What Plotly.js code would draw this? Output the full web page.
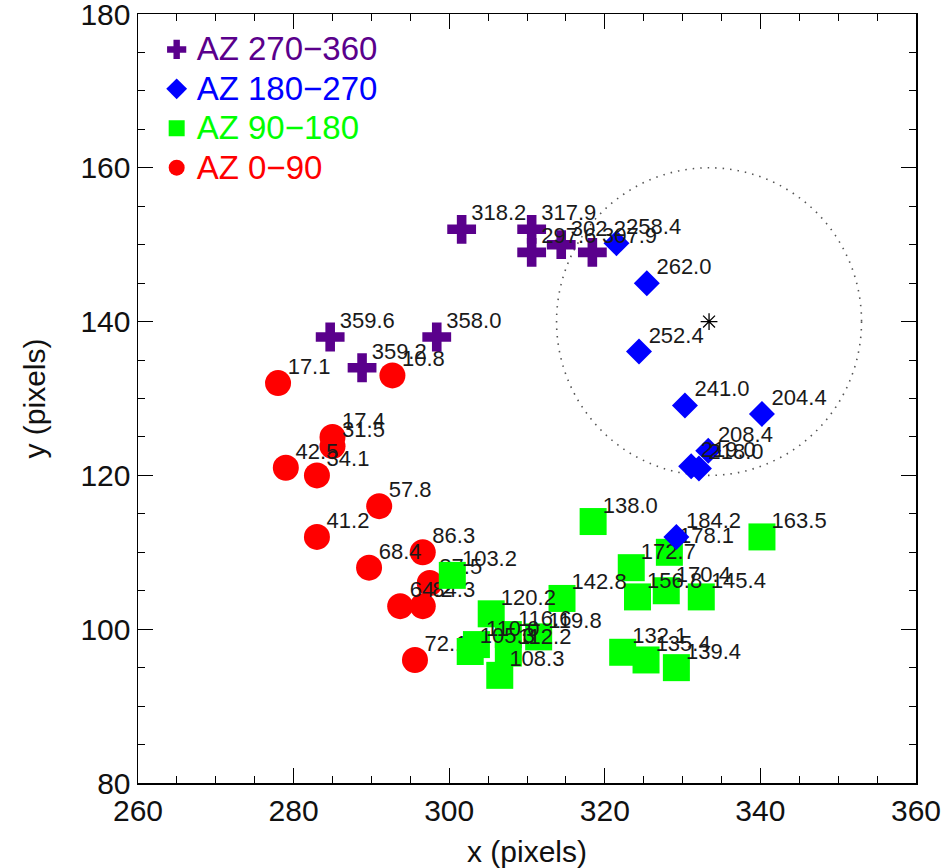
<!DOCTYPE html>
<html>
<head>
<meta charset="utf-8">
<script src="https://cdn.plot.ly/plotly-3.0.1.min.js"></script>
<style>html,body{margin:0;padding:0;background:#fff;}#chart{width:947px;height:868px;}</style>
</head>
<body>
<div id="chart"></div>
<script>
// AZ 0-90 (red circles)
const az0X = [278, 292.7, 285, 285, 279, 283, 291, 283, 289.7, 296.6, 297.5, 293.7, 296.6, 295.6];
const az0Y = [132, 133, 125, 123.8, 121, 120, 116, 112, 108, 110, 106, 103, 103, 96];
const az0Lab = ["17.1","10.8","17.4","31.5","42.5","34.1","57.8","41.2","68.4","86.3","87.5","64.2","84.3","72.1"];

// AZ 90-180 (green squares)
const az90X = [318.5, 340.2, 328.3, 323.4, 324.2, 327.9, 332.4, 314.5, 322.3, 325.3, 329.2, 300.4, 305.4, 302.7, 303.5, 307.6, 307.6, 311.5, 306.5];
const az90Y = [114, 112, 110, 108, 104.2, 105, 104.2, 104, 97, 96, 95, 107, 102, 97.1, 98.0, 99.3, 96.9, 99, 94];
const az90Lab = ["138.0","163.5","178.1","172.7","156.8","170.4","145.4","142.8","132.1","135.4","139.4","103.2","120.2","105.3","110.0","116.6","112.2","119.8","108.3"];

// AZ 180-270 (blue diamonds)
const az180X = [321.5, 325.4, 324.4, 330.3, 340.2, 333.3, 331.1, 332.1, 329.2];
const az180Y = [150.2, 145, 136.1, 129.1, 128, 123.2, 121.2, 120.9, 112];
const az180Lab = ["258.4","262.0","252.4","241.0","204.4","208.4","219.0","218.0","184.2"];

// AZ 270-360 (purple crosses)
const az270X = [301.6, 310.6, 310.6, 314.4, 318.4, 284.7, 298.4, 288.8];
const az270Y = [152, 152, 149, 150, 149, 138, 138, 134];
const az270Lab = ["318.2","317.9","297.6","302.2","307.9","359.6","358.0","359.2"];

// centre marker and dotted circle
const centreX = [333.4];
const centreY = [140];
const circleRx = 19.6;
const circleRy = 20;

const labelFont = {family: "Liberation Sans, Arial, sans-serif", size: 22, color: "#1a1a1a"};

function markerTrace(x, y, name, color, symbol, size) {
  return {
    type: "scatter", mode: "markers", x: x, y: y,
    name: '<span style="color:' + color + ';font-size:33px">' + name + '</span>',
    marker: {symbol: symbol, size: size, color: color, line: {width: 0}},
    hoverinfo: "skip"
  };
}
function labelTrace(x, y, txt) {
  return {
    type: "scatter", mode: "markers+text", x: x, y: y,
    text: txt.map(t => "\u00a0" + t),
    textposition: "top right", textfont: labelFont, showlegend: false,
    marker: {size: 4, opacity: 0, color: "#fff"}, hoverinfo: "skip", cliponaxis: false
  };
}

const traces = [
  markerTrace(az0X, az0Y, "AZ 0\u221290", "#ff0000", "circle", 26),
  labelTrace(az0X, az0Y, az0Lab),
  markerTrace(az90X, az90Y, "AZ 90\u2212180", "#00ff00", "square", 27),
  labelTrace(az90X, az90Y, az90Lab),
  markerTrace(az180X, az180Y, "AZ 180\u2212270", "#0000ff", "diamond", 20),
  labelTrace(az180X, az180Y, az180Lab),
  markerTrace(az270X, az270Y, "AZ 270\u2212360", "#5a008c", "cross", 24),
  labelTrace(az270X, az270Y, az270Lab),
  {type: "scatter", mode: "markers", x: centreX, y: centreY, showlegend: false,
   marker: {symbol: "asterisk-open", size: 14, color: "#000", line: {width: 1.3, color: "#000"}}, hoverinfo: "skip"}
];

const tickFont = {family: "Liberation Sans Narrow, Arial Narrow, Liberation Sans, sans-serif", size: 30, color: "#111"};

const axisCommon = {
  showgrid: false, zeroline: false, showline: true, linecolor: "#000", linewidth: 1.5,
  mirror: "ticks", ticks: "inside", ticklen: 15, tickwidth: 1.3, tickcolor: "#000",
  tickfont: tickFont, dtick: 20, ticklabeloverflow: "allow",
  minor: {ticks: "inside", ticklen: 7, tickwidth: 1, tickcolor: "#000", dtick: 5, showgrid: false}
};

const layout = {
  width: 947, height: 868,
  margin: {l: 138, r: 31, t: 14, b: 85},
  paper_bgcolor: "#fff", plot_bgcolor: "#fff",
  xaxis: Object.assign({}, axisCommon, {range: [260, 360], tick0: 260,
    title: {text: "x (pixels)", font: tickFont, standoff: 16}}),
  yaxis: Object.assign({}, axisCommon, {range: [80, 180], tick0: 80,
    title: {text: "y (pixels)", font: tickFont, standoff: 26}}),
  showlegend: true,
  legend: {x: 0.024, y: 0.986, xanchor: "left", yanchor: "top", traceorder: "reversed",
    bgcolor: "rgba(0,0,0,0)", font: {family: "Liberation Sans, Arial, sans-serif", size: 28},
    itemsizing: "trace", tracegroupgap: 0},
  shapes: [{type: "circle", xref: "x", yref: "y",
    x0: centreX[0] - circleRx, x1: centreX[0] + circleRx,
    y0: centreY[0] - circleRy, y1: centreY[0] + circleRy,
    line: {color: "#555", width: 1.6, dash: "1.5px,6px"}, layer: "below"}]
};

Plotly.newPlot("chart", traces, layout, {staticPlot: true, displayModeBar: false});
</script>
</body>
</html>
